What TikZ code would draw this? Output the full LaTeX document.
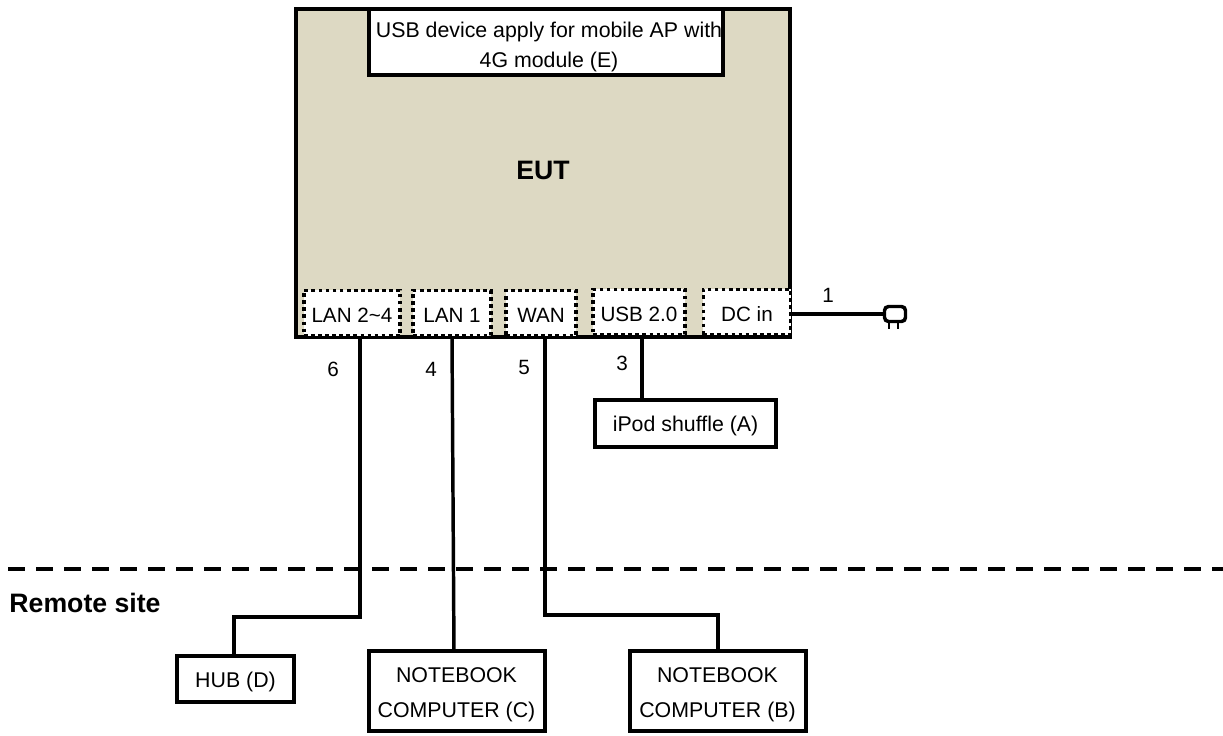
\documentclass[tikz,border=0pt]{standalone}
\usepackage{fontspec}
\setmainfont{Liberation Sans}
\definecolor{eutfill}{HTML}{DDD9C3}
\begin{document}
\begin{tikzpicture}[x=0.75pt,y=-0.75pt,
  wire/.style={draw=black,line width=2.6pt},
  txt/.style={font=\fontsize{16}{22}\selectfont,inner sep=0pt,align=center,text=black},
  numtxt/.style={font=\fontsize{15.5}{20}\selectfont,inner sep=0pt,text=black},
  boldtxt/.style={font=\fontsize{20}{24}\selectfont\bfseries,inner sep=0pt,text=black},
  box/.style={font=\fontsize{16}{22}\selectfont,inner sep=0pt,draw=black,line width=3pt,fill=white,minimum width=#1,minimum height=35pt},
  port/.style={font=\fontsize{15.5}{20}\selectfont,inner sep=0pt,text height=14pt,text depth=0pt,draw=black,fill=white,line width=2.6pt,dash pattern=on 2.8pt off 2.5pt,minimum height=34pt,minimum width=#1}]
\useasboundingbox (0,0) rectangle (1223,735);
% separator
\coordinate (sepL) at (8,569);
\coordinate (sepR) at (1223,569);
\draw[line width=2.6pt,dash pattern=on 12.75pt off 8.25pt] (sepL) -- (sepR);
% EUT
\node[draw=black,line width=3pt,fill=eutfill,minimum width=370.5pt,minimum height=246pt,inner sep=0pt] (eut) at (543,173) {};
\node[boldtxt] (eutlabel) at (543,170) {EUT};
\node[box=265pt,minimum height=49pt] (usbe) at (546,42) {};
\node[txt,font=\fontsize{16}{22.5}\selectfont] (usbelabel) at (549,47) {USB device apply for mobile AP with\\4G module (E)};
% ports
\node[port=72pt] (lan) at (352,313) {LAN 2\textasciitilde 4};
\node[port=58.5pt] (lanone) at (452,313) {LAN 1};
\node[port=52.5pt] (wan) at (541,313) {WAN};
\node[port=69pt] (usb) at (639,312) {USB 2.0};
\node[port=65.5pt] (dc) at (747,312) {DC in};
% devices
\node[box=136pt,text height=16pt,text depth=3.3pt] (ipod) at (685.5,423.5) {iPod shuffle (A)};
\node[box=88pt,text height=16pt,text depth=3.3pt] (hub) at (235.5,679) {HUB (D)};
\node[box=132pt,minimum height=60pt] (nbc) at (456.5,691) {};
\node[txt,font=\fontsize{16}{26.25}\selectfont] (nbclabel) at (456.5,695) {NOTEBOOK\\COMPUTER (C)};
\node[box=132pt,minimum height=60pt] (nbb) at (717.5,691) {};
\node[txt,font=\fontsize{16}{26.25}\selectfont] (nbblabel) at (717.5,695) {NOTEBOOK\\COMPUTER (B)};
% plug
\node[draw=black,line width=2.6pt,fill=white,rounded corners=3pt,minimum width=15.75pt,minimum height=11.25pt,inner sep=0pt] (plug) at (895,314) {};
\draw[line width=1pt] ([xshift=-4.5pt]plug.south) -- ++(0,-4.5pt);
\draw[line width=1pt] ([xshift=2.25pt]plug.south) -- ++(0,-4.5pt);
% connectors
\coordinate (hubbend) at (234,617);
\coordinate (wanbend) at (718,615);
\draw[wire] (dc.east |- plug.west) -- (plug.west);
\draw[wire] ([xshift=2.25pt]usb.south) -- ([xshift=2.25pt]usb.south |- ipod.north);
\draw[wire] ([xshift=6pt]lan.south) -- ([xshift=6pt]lan.south |- hubbend) -- (hubbend) -- (hubbend |- hub.north);
\draw[wire] (lanone.south) -- ([xshift=-1.9pt]nbc.north);
\draw[wire] ([xshift=3pt]wan.south) -- ([xshift=3pt]wan.south |- wanbend) -- (wanbend) -- (wanbend |- nbb.north);
% labels
\node[numtxt] (n1) at (828,295) {1};
\node[numtxt] (n6) at (333,369) {6};
\node[numtxt] (n4) at (431,369) {4};
\node[numtxt] (n5) at (524,367) {5};
\node[numtxt] (n3) at (622,363) {3};
\node[boldtxt] (remote) at (85,603) {Remote site};
\end{tikzpicture}
\end{document}
